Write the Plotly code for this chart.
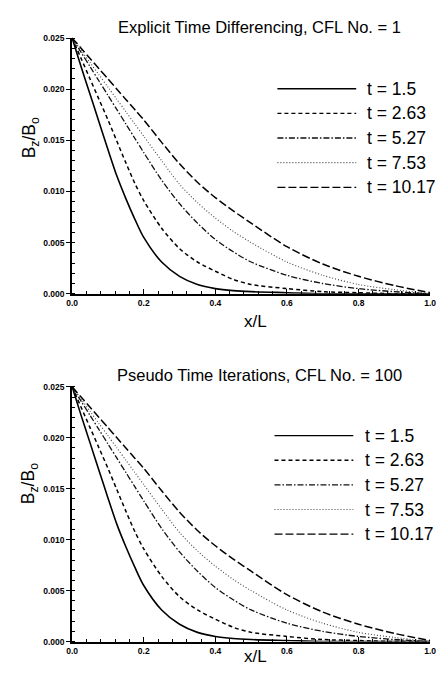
import plotly.graph_objects as go

W, H = 441, 683

# ---------------- data ----------------
x_pos = [0, 0.025, 0.05, 0.075, 0.1, 0.125, 0.15, 0.175, 0.2, 0.25, 0.3,
         0.35, 0.4, 0.45, 0.5, 0.6, 0.7, 0.8, 0.9, 1.0]

t_labels = ["t = 1.5", "t = 2.63", "t = 5.27", "t = 7.53", "t = 10.17"]

bz_t1_5 = [0.0250, 0.0222, 0.0195, 0.0168, 0.0141, 0.0115, 0.0093, 0.0073, 0.0055,
           0.0031, 0.0017, 0.0009, 0.0005, 0.0003, 0.0002, 0.0001, 0.0000, 0.0, 0.0, 0.0]
bz_t2_63 = [0.0250, 0.0230, 0.0210, 0.0190, 0.0170, 0.0149, 0.0128, 0.0108, 0.0091,
            0.0064, 0.0044, 0.0031, 0.0022, 0.0014, 0.0009, 0.0005, 0.0002, 0.0001, 0.0, 0.0]
bz_t5_27 = [0.0250, 0.0236, 0.0222, 0.0208, 0.0194, 0.0180, 0.0166, 0.0152, 0.0138,
            0.0111, 0.0088, 0.0069, 0.0053, 0.0041, 0.0031, 0.0018, 0.0010, 0.0005, 0.0002, 0.0]
bz_t7_53 = [0.0250, 0.0238, 0.0226, 0.0214, 0.0202, 0.0190, 0.0178, 0.0166, 0.0154,
            0.0130, 0.0107, 0.0089, 0.0074, 0.0061, 0.0050, 0.0031, 0.0018, 0.0009, 0.0004, 0.0]
bz_t10_17 = [0.0250, 0.0240, 0.0230, 0.0220, 0.0210, 0.0200, 0.0190, 0.0180, 0.0170,
             0.0148, 0.0127, 0.0109, 0.0094, 0.0081, 0.0069, 0.0046, 0.0029, 0.0017, 0.0008, 0.0001]

series_top = [bz_t1_5, bz_t2_63, bz_t5_27, bz_t7_53, bz_t10_17]
series_bottom = [bz_t1_5, bz_t2_63, bz_t5_27, bz_t7_53, bz_t10_17]

titles = ["Explicit Time Differencing, CFL No. = 1",
          "Pseudo Time Iterations, CFL No. = 100"]

y_ticks = [0.0, 0.005, 0.010, 0.015, 0.020, 0.025]
x_ticks = [0.0, 0.2, 0.4, 0.6, 0.8, 1.0]

# ---------------- styles ----------------
dashes = ["solid", "4px,3px", "6px,2px,1.5px,2px", "1px,2px", "8px,3px"]
colors = ["#000", "#000", "#111", "#444", "#000"]
widths = [1.6, 1.5, 1.3, 1.1, 1.5]
FONT = "Liberation Sans, Arial, Helvetica, sans-serif"


def px_x(p):
    return p / W


def px_y(p):
    return 1 - p / H


fig = go.Figure()

for k, series in enumerate([series_top, series_bottom]):
    xa = "x" if k == 0 else "x2"
    ya = "y" if k == 0 else "y2"
    for i, vals in enumerate(series):
        fig.add_trace(go.Scatter(
            x=x_pos, y=vals, mode="lines", xaxis=xa, yaxis=ya,
            line=dict(color=colors[i], width=widths[i], dash=dashes[i], shape="spline",
                      smoothing=0.8),
            showlegend=False, hoverinfo="skip"))

# Plot geometry (pixels)
x0_px, x1_px = 68, 436
panels = [dict(top=33, bot=293, title_y=22, xl_y=321, yt_y=135,
               leg_y0=85, leg_x0=279, leg_x1=360, leg_tx=369),
          dict(top=387, bot=646, title_y=375, xl_y=661, yt_y=486,
               leg_y0=437, leg_x0=276, leg_x1=357, leg_tx=367)]

axis_common = dict(showgrid=False, zeroline=False, showline=True, linewidth=2,
                   linecolor="#000", mirror=False, ticklabeloverflow="allow",
                   tickfont=dict(family=FONT, size=8.5, color="#000", weight="bold"))

layout_axes = {}
for k, p in enumerate(panels):
    sfx = "" if k == 0 else "2"
    layout_axes["xaxis" + sfx] = dict(
        axis_common, domain=[px_x(x0_px), px_x(x1_px)], range=[0, 1],
        anchor="y" + sfx, tickvals=x_ticks, tickformat=".1f",
        ticks="inside", ticklen=5, tickwidth=1.2, tickcolor="#000",
        minor=dict(dtick=0.04, tick0=0, ticks="inside", ticklen=3, tickcolor="#000", tickwidth=1),
    )
    layout_axes["yaxis" + sfx] = dict(
        axis_common, domain=[px_y(p["bot"]), px_y(p["top"])], range=[0, 0.02505],
        anchor="x" + sfx, tickvals=y_ticks, tickformat=".3f",
        ticks="outside", ticklen=4, tickwidth=1.2, tickcolor="#000",
        minor=dict(dtick=0.001, tick0=0, ticks="inside", ticklen=3, tickcolor="#000", tickwidth=1),
    )

annotations = []
shapes = []
for k, p in enumerate(panels):
    annotations.append(dict(text=titles[k], x=px_x(261), y=px_y(p["title_y"]),
                            xref="paper", yref="paper", showarrow=False,
                            xanchor="center", yanchor="middle",
                            font=dict(family=FONT, size=16.5, color="#000")))
    annotations.append(dict(text="x/L", x=px_x(256), y=px_y(p["xl_y"]),
                            xref="paper", yref="paper", showarrow=False,
                            xanchor="center", yanchor="middle",
                            font=dict(family=FONT, size=17, color="#000")))
    annotations.append(dict(text="B<sub>z</sub>/B<sub>o</sub>", x=px_x(25), y=px_y(p["yt_y"]),
                            xref="paper", yref="paper", showarrow=False, textangle=-90,
                            xanchor="center", yanchor="middle",
                            font=dict(family=FONT, size=17.5, color="#000")))
    for i, lab in enumerate(t_labels):
        yy = p["leg_y0"] + 25 * i
        shapes.append(dict(type="line", xref="paper", yref="paper",
                           x0=px_x(p["leg_x0"]), x1=px_x(p["leg_x1"]),
                           y0=px_y(yy), y1=px_y(yy),
                           line=dict(color=colors[i], width=min(widths[i], 1.3), dash=dashes[i])))
        annotations.append(dict(text=lab, x=px_x(p["leg_tx"]), y=px_y(yy),
                                xref="paper", yref="paper", showarrow=False,
                                xanchor="left", yanchor="middle",
                                font=dict(family=FONT, size=17.5, color="#000")))

fig.update_layout(
    width=W, height=H, margin=dict(l=0, r=0, t=0, b=0),
    paper_bgcolor="white", plot_bgcolor="white",
    showlegend=False, annotations=annotations, shapes=shapes,
    **layout_axes,
)

fig.write_html("out.html")
